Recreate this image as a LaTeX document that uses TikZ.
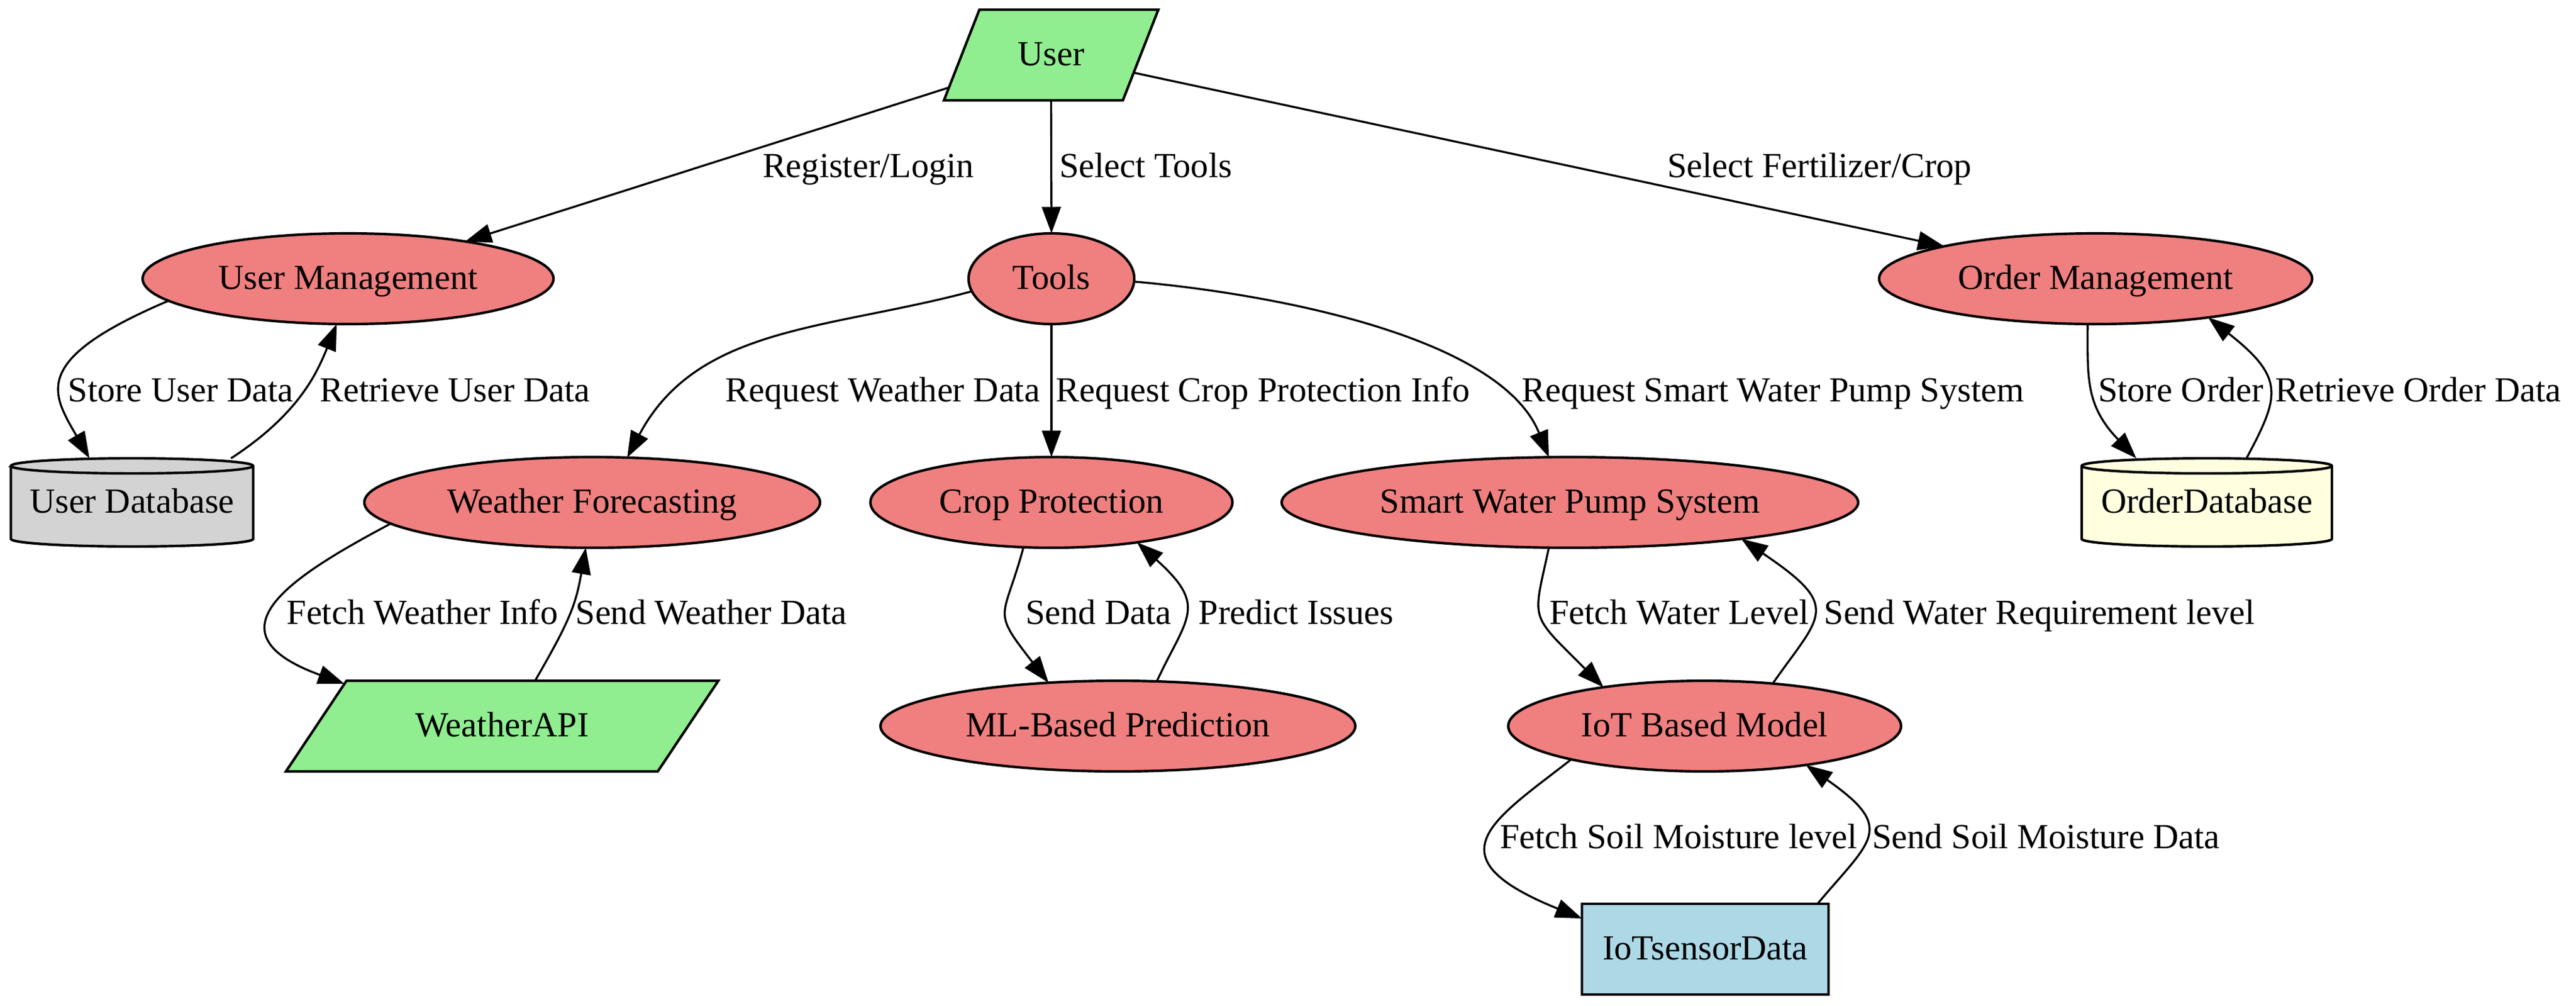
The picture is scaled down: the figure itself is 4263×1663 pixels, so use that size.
\documentclass[tikz,border=0pt]{standalone}
\usepackage{fontspec}
\setmainfont{Liberation Serif}
\usetikzlibrary{arrows.meta,shapes.geometric,backgrounds}
\definecolor{lcoral}{HTML}{F08080}
\definecolor{lgreen}{HTML}{90EE90}
\definecolor{lgray}{HTML}{D3D3D3}
\definecolor{lyellow}{HTML}{FFFFE0}
\definecolor{lblue}{HTML}{ADD8E6}
\begin{document}
\begin{tikzpicture}[x=0.24pt,y=0.24pt,
  every node/.style={font=\fontsize{14pt}{16pt}\selectfont, inner sep=0pt, outer sep=0pt, text height=11pt, text depth=2.4pt},
  proc/.style={ellipse, draw, line width=1pt, fill=lcoral, minimum height=36pt},
  io/.style={trapezium, trapezium stretches=true, draw, line width=1pt, fill=lgreen, minimum height=36pt},
  sensorbox/.style={rectangle, draw, line width=1pt, fill=lblue, minimum height=36pt, minimum width=98pt},
  dbnode/.style={rectangle, minimum height=35pt},
  dbline/.style={line width=1pt},
  conn/.style={line width=0.8pt, -{Triangle[length=10.5pt,width=7.5pt]}}
]
\useasboundingbox (0,0) rectangle (4263,-1663);

% nodes
\node[io, trapezium left angle=64, trapezium right angle=116, minimum width=85.2pt] (user) at (1739.5,-91) {User};
\node[proc, minimum width=163.2pt] (um) at (576,-461) {User Management};
\node[proc, minimum width=65.8pt] (tools) at (1740,-461) {Tools};
\node[proc, minimum width=172pt] (om) at (3468,-461) {Order Management};
\node[dbnode, minimum width=96.2pt] (udb) at (218.5,-831) {User Database};
\node[proc, minimum width=181pt] (wf) at (980,-831) {Weather Forecasting};
\node[proc, minimum width=143.8pt] (cp) at (1740,-831) {Crop Protection};
\node[proc, minimum width=229pt] (swp) at (2598,-831) {Smart Water Pump System};
\node[dbnode, minimum width=99.4pt] (odb) at (3652,-831) {OrderDatabase};
\node[io, trapezium left angle=45, trapezium right angle=135, minimum width=172.8pt] (wapi) at (831,-1201) {WeatherAPI};
\node[proc, minimum width=188.6pt] (ml) at (1850,-1201) {ML-Based Prediction};
\node[proc, minimum width=156pt] (iot) at (2821,-1201) {IoT Based Model};
\node[sensorbox] (sensor) at (2822,-1570) {IoTsensorData};

% cylinders
\begin{pgfonlayer}{background}
\filldraw[dbline, fill=lgray] ([yshift=-3pt]udb.north west) -- ([yshift=3pt]udb.south west)
  arc[start angle=180,end angle=360,x radius=48.1pt,y radius=3pt] -- ([yshift=-3pt]udb.north east)
  arc[start angle=0,end angle=180,x radius=48.1pt,y radius=3pt] -- cycle;
\draw[dbline] ([yshift=-3pt]udb.north west) arc[start angle=180,end angle=360,x radius=48.1pt,y radius=3pt];
\filldraw[dbline, fill=lyellow] ([yshift=-3pt]odb.north west) -- ([yshift=3pt]odb.south west)
  arc[start angle=180,end angle=360,x radius=49.7pt,y radius=3pt] -- ([yshift=-3pt]odb.north east)
  arc[start angle=0,end angle=180,x radius=49.7pt,y radius=3pt] -- cycle;
\draw[dbline] ([yshift=-3pt]odb.north west) arc[start angle=180,end angle=360,x radius=49.7pt,y radius=3pt];
\end{pgfonlayer}

% connectors
\draw[conn] (user) -- (um);
\draw[conn] (user.south) -- (tools.north);
\draw[conn] (user) -- (om);
\draw[conn] (um.187) .. controls +(203:60pt) and +(120:30pt) .. (udb.134);
\draw[conn] (udb.24) .. controls +(33:32pt) and +(248:21pt) .. (um.256);
\draw[conn] (tools.189) to[out=195,in=62] (wf.52);
\draw[conn] (tools.south) -- (cp.north);
\draw[conn] (tools.-2) to[out=-5,in=112,looseness=0.75] (swp.115);
\draw[conn] (om.260) .. controls +(270:21pt) and +(134:29.3pt) .. (odb.148);
\draw[conn] (odb.48) .. controls +(62:27.7pt) and +(322:39.2pt) .. (om.341);
\draw[conn] (wf.186) .. controls +(208:44pt) and +(160:60pt) .. (wapi.165);
\draw[conn] (wapi.54) .. controls +(60:26.8pt) and +(260:23.5pt) .. (wf.262);
\draw[conn] (cp.238) .. controls +(255:30.4pt) and +(128:37.6pt) .. (ml.148);
\draw[conn] (ml.49) .. controls +(65:28.5pt) and +(318:38.1pt) .. (cp.335);
\draw[conn] (swp.245) .. controls +(258:30.5pt) and +(135:42.2pt) .. (iot.159);
\draw[conn] (iot.32) .. controls +(55:33.6pt) and +(326:48.6pt) .. (swp.348);
\draw[conn] (iot.194) .. controls +(218:39.4pt) and +(158:65.6pt) .. (sensor.166);
\draw[conn] (sensor.22) .. controls +(50:33.4pt) and +(325:44.1pt) .. (iot.339);

% labels
\node (l1) at (1437,-276) {Register/Login};
\node[anchor=west] (l2) at (1753,-276) {Select Tools};
\node (l3) at (3011,-276) {Select Fertilizer/Crop};
\node (l4) at (299,-647) {Store User Data};
\node (l5) at (753,-647) {Retrieve User Data};
\node (l6) at (1461,-647) {Request Weather Data};
\node (l7) at (2090,-647) {Request Crop Protection Info};
\node (l8) at (2934,-647) {Request Smart Water Pump System};
\node (l9) at (3609,-647) {Store Order};
\node (l10) at (4002,-647) {Retrieve Order Data};
\node (l11) at (699,-1015) {Fetch Weather Info};
\node (l12) at (1177,-1015) {Send Weather Data};
\node (l13) at (1818,-1015) {Send Data};
\node (l14) at (2145,-1015) {Predict Issues};
\node (l15) at (2779,-1015) {Fetch Water Level};
\node (l16) at (3375,-1015) {Send Water Requirement level};
\node (l17) at (2778,-1386) {Fetch Soil Moisture level};
\node (l18) at (3386,-1386) {Send Soil Moisture Data};
\end{tikzpicture}
\end{document}
